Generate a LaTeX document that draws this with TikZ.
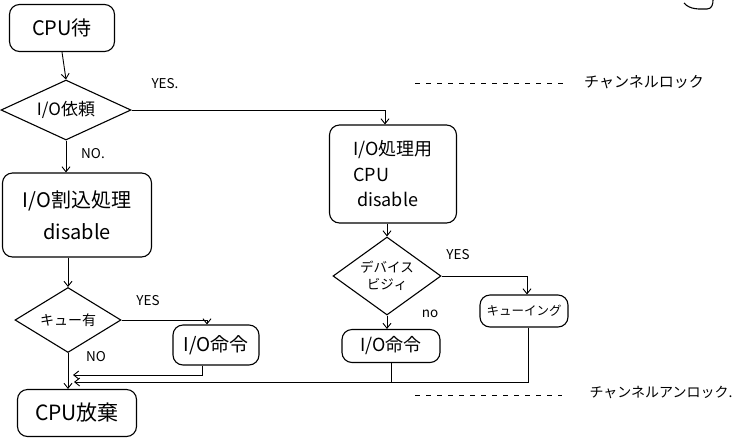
\documentclass[tikz,border=0pt]{standalone}
\usepackage{fontspec}
\setmainfont{Noto Sans CJK JP}
\usetikzlibrary{shapes.geometric,arrows.meta}
\begin{document}
\begin{tikzpicture}[x=1pt,y=-1pt,
  box/.style={draw,rounded corners=10pt,line width=1.1pt,inner sep=0pt,font=\fontsize{15}{18}\selectfont},
  dia/.style={draw,diamond,line width=1.1pt,inner sep=0pt,font=\fontsize{15}{18}\selectfont},
  fs/.style={font=\fontsize{#1}{#1}\selectfont},
  lbl/.style={font=\fontsize{13.5}{15}\selectfont,inner sep=1pt},
  note/.style={inner sep=1pt},
  conn/.style={line width=0.9pt},
  arr/.style={conn,-{Straight Barb[length=5pt,width=8pt]}},
  dashline/.style={line width=0.8pt,dash pattern=on 5pt off 6pt}]
\useasboundingbox (0,0) rectangle (733,440);
\fill[white] (0,0) rectangle (733,440);

\node[box,fs=20,minimum width=105,minimum height=47] (wait) at (62,28) {CPU待};
\node[dia,fs=17,shape aspect=2,minimum width=130,minimum height=60] (req) at (66,110) {I/O依頼};
\node[box,fs=20,minimum width=149,minimum height=84,align=center] (intr) at (77,215) {I/O割込処理\\[12pt]disable};
\node[dia,fs=14,shape aspect=1.6,minimum width=106,minimum height=65] (q) at (68,320) {キュー有};
\node[box,fs=19,minimum width=86,minimum height=40] (io1) at (216,345) {I/O命令};
\node[box,fs=21,minimum width=119,minimum height=47] (give) at (77,413) {CPU放棄};
\node[box,fs=18,minimum width=127,minimum height=98,align=left] (proc) at (393,174) {I/O処理用\\[8pt]CPU\\[7pt]\ disable};
\node[dia,fs=13.5,shape aspect=1.4,minimum width=108,minimum height=78,align=center] (busy) at (387,276) {デバイス\\[3pt]ビジィ};
\node[box,fs=12.5,minimum width=88,minimum height=32] (queue) at (524,311) {キューイング};
\node[box,fs=18,minimum width=98,minimum height=33] (io2) at (391,346) {I/O命令};

\node[lbl] (yes1) at (165,84) {YES.};
\node[lbl] (no1) at (93,154) {NO.};
\node[lbl] (yes2) at (148,301) {YES};
\node[lbl] (no2) at (96,357) {NO};
\node[lbl] (yes3) at (458,255) {YES};
\node[lbl] (no3) at (430,314) {no};

\draw[arr] (wait.south) -- (req.north);
\draw[arr] (req.east) -| ([xshift=-8]proc.north);
\draw[arr] (req.south) -- (req.south |- intr.north);
\draw[arr] (q.north |- intr.south) -- (q.north);
\draw[arr] (q.east) -| ([xshift=-9]io1.north);
\draw[arr] (q.south) -- (q.south |- give.north);
\coordinate (j1) at (73,375);
\coordinate (j2) at (74,382);
\draw[arr] ([xshift=-14]io1.south) |- (j1);
\draw[conn] (io2.south) -- (io2.south |- j2);
\draw[arr] ([xshift=4]queue.south) |- (j2);
\draw[arr] (busy.north |- proc.south) -- (busy.north);
\draw[arr] (busy.east) -| ([xshift=3]queue.north);
\draw[arr] (busy.south) -- (busy.south |- io2.north);

\node[note,fs=15] (lock) at (644,82) {チャンネルロック};
\node[note,fs=14] (unlock) at (661,392) {チャンネルアンロック.};
\coordinate (d1a) at (415,83);
\coordinate (d1b) at (565,83);
\coordinate (d2a) at (415,395);
\coordinate (d2b) at (562,395);
\draw[dashline] (d1a) -- (d1b);
\draw[dashline] (d2a) -- (d2b);

\draw[line width=1.1pt] (684,3) .. controls (690,10) and (700,9) .. (707,9) .. controls (712,9) and (713,4) .. (713,0);
\end{tikzpicture}
\end{document}
